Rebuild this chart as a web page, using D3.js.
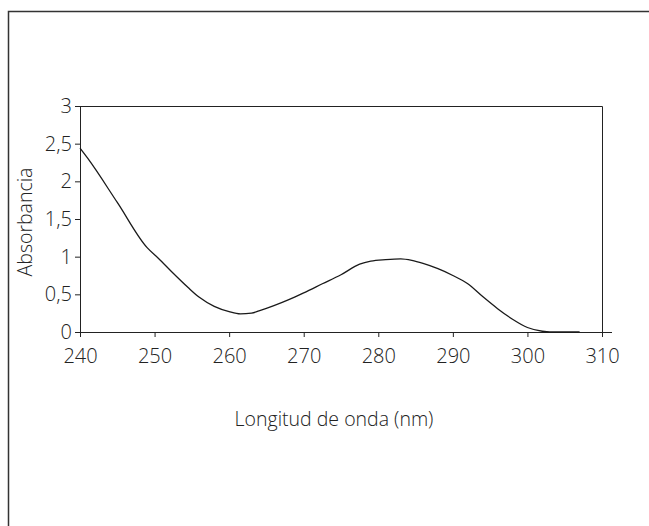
<!DOCTYPE html>
<html>
<head>
<meta charset="utf-8">
<script src="https://cdn.jsdelivr.net/npm/d3@7"></script>
<style>
  body { margin: 0; background: #fff; }
  svg text { font-family: "Open Sans", "Noto Sans", sans-serif; font-weight: 300; fill: #222; }
</style>
</head>
<body>
<div id="chart"></div>
<script>
// wavelength (nm) and absorbance
var wavelength = [240, 241, 245, 249, 250.5, 252.5, 254.5, 256, 258, 260, 261.5, 263, 264, 266, 268, 270, 272.5, 275, 277.5, 279, 281, 283, 284.5, 286, 288, 290, 292, 294, 296, 298, 300, 302, 303, 307];
var absorbance = [2.44, 2.31, 1.72, 1.12, 0.98, 0.78, 0.59, 0.46, 0.34, 0.27, 0.24, 0.25, 0.28, 0.35, 0.43, 0.52, 0.64, 0.76, 0.90, 0.94, 0.96, 0.97, 0.95, 0.91, 0.84, 0.75, 0.64, 0.47, 0.31, 0.17, 0.06, 0.01, 0, 0];
var xTicks = [240, 250, 260, 270, 280, 290, 300, 310];
var yTicks = [0, 0.5, 1, 1.5, 2, 2.5, 3];

function drawSpectrum(selector){
    var width = 649, height = 526;
    var left = 80, right = 602, top = 106, bottom = 332;

    var svg = d3.select(selector)
        .append("svg")
        .attr("width", width)
        .attr("height", height)

    // outer frame (open at right and bottom)
    svg.append("path")
        .attr("d", "M8.5," + height + "V11.5H" + width)
        .attr("fill", "none")
        .attr("stroke", "#333")
        .attr("stroke-width", 1.5)

    var x = d3.scaleLinear().domain([240, 310]).range([left, right]);
    var y = d3.scaleLinear().domain([0, 3]).range([bottom, top]);

    var fmt = function(d){ return String(d).replace(".", ","); };

    var xAxis = svg.append("g")
        .attr("transform", "translate(0," + bottom + ")")
        .call(d3.axisBottom(x).tickValues(xTicks).tickSize(5).tickPadding(12).tickSizeOuter(0))
    xAxis.select(".domain").attr("d", "M" + (left - 5) + ",0.5H" + (right + 10));

    var yAxis = svg.append("g")
        .attr("transform", "translate(" + left + ",0)")
        .call(d3.axisLeft(y).tickValues(yTicks).tickFormat(fmt).tickSize(5).tickPadding(3).tickSizeOuter(0))

    svg.selectAll(".tick text").attr("font-size", 20).attr("fill", "#222");
    svg.selectAll(".domain, .tick line").attr("stroke", "#222");

    // top and right frame of the plot
    svg.append("path")
        .attr("d", "M" + (left - 4) + "," + (top + 0.5) + "H" + (right + 0.5) + "V" + (bottom + 5))
        .attr("fill", "none")
        .attr("stroke", "#222")

    var line = d3.line()
        .x(function(d){ return x(d[0]); })
        .y(function(d){ return y(d[1]); })
        .curve(d3.curveMonotoneX);

    svg.append("path")
        .datum(d3.zip(wavelength, absorbance))
        .attr("d", line)
        .attr("fill", "none")
        .attr("stroke", "#1a1a1a")
        .attr("stroke-width", 1.3)

    svg.append("text")
        .attr("x", 334)
        .attr("y", 426)
        .attr("text-anchor", "middle")
        .attr("font-size", 19.5)
        .text("Longitud de onda (nm)")

    svg.append("text")
        .attr("transform", "translate(32,222) rotate(-90)")
        .attr("text-anchor", "middle")
        .attr("font-size", 19.5)
        .text("Absorbancia")
}

drawSpectrum("#chart");
</script>
</body>
</html>
